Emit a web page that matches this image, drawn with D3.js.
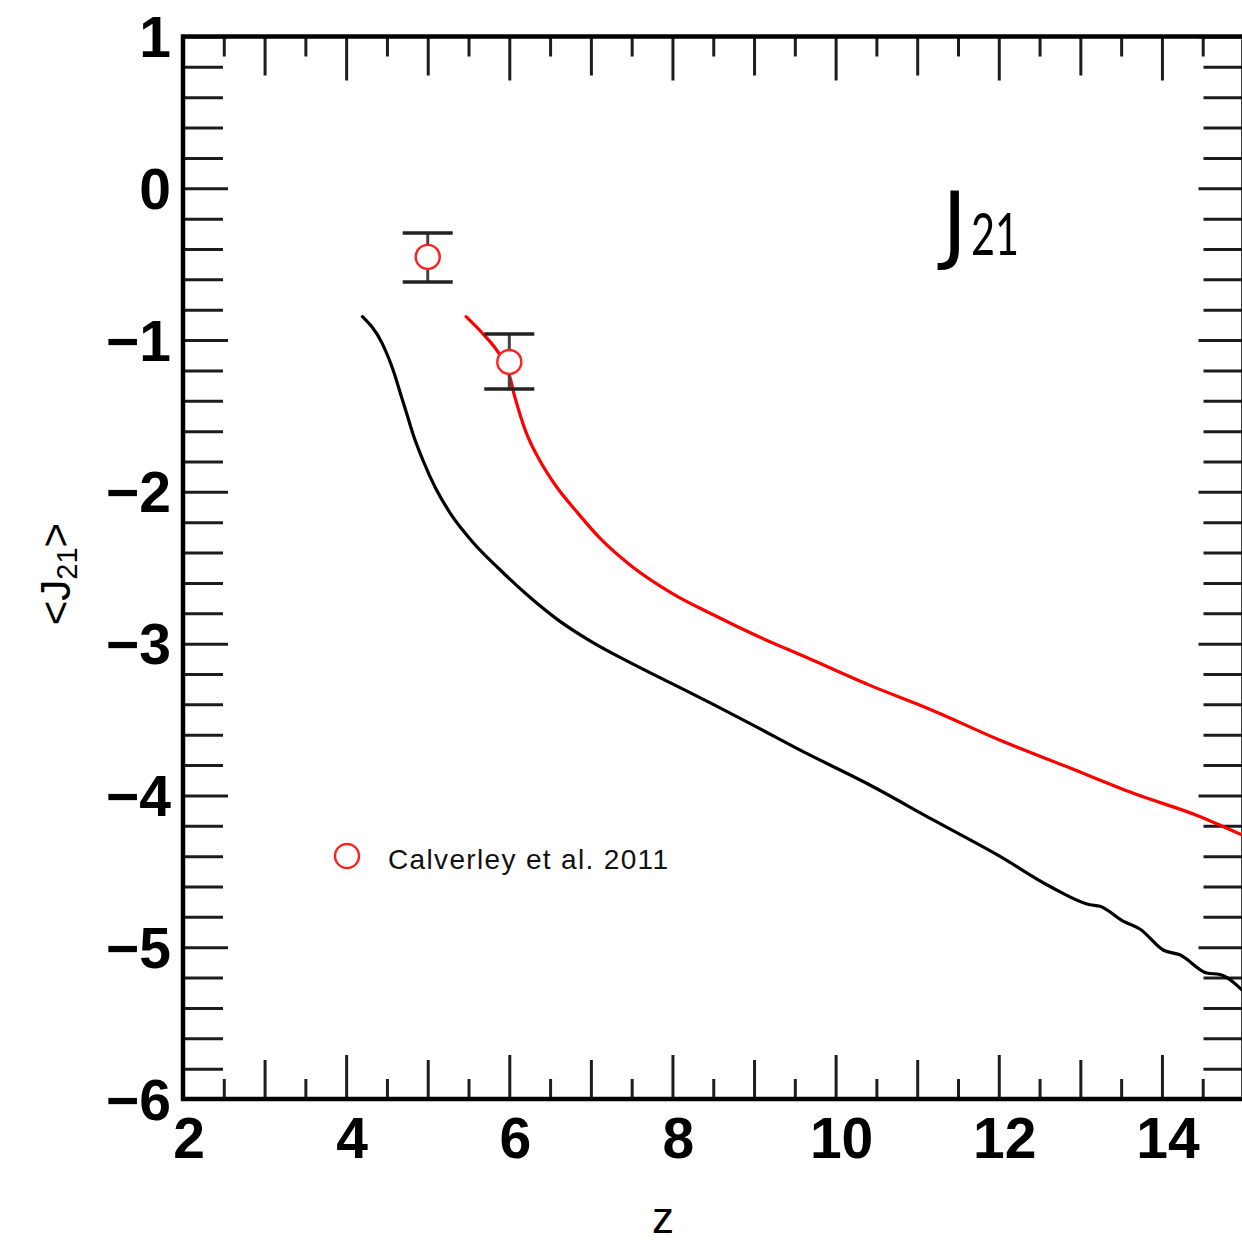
<!DOCTYPE html>
<html>
<head>
<meta charset="utf-8">
<script src="https://cdn.jsdelivr.net/npm/d3@7"></script>
<style>
  html, body { margin: 0; padding: 0; background: #fff; }
  svg { display: block; }
</style>
</head>
<body>
<svg id="chart" width="1242" height="1241"></svg>
<script>
// Mean ionising background <J21> (log10) versus redshift z

// Model without extra sources (black curve)
const blackZ = [4.20, 4.44, 4.59, 4.67, 4.74, 4.82, 4.94, 5.10, 5.30, 5.55, 5.88, 6.20, 6.60, 7.00,
                7.50, 8.00, 8.50, 9.00, 9.56, 10.38, 11.19, 12.01, 12.63, 13.12, 13.24, 13.53,
                13.73, 14.02, 14.22, 14.55, 14.71, 14.98];
const blackJ = [-0.846, -1.02, -1.22, -1.36, -1.48, -1.62, -1.79, -1.98, -2.16, -2.33, -2.51, -2.67,
                -2.845, -2.985, -3.13, -3.265, -3.40, -3.54, -3.70, -3.92, -4.16, -4.40, -4.60, -4.72,
                -4.73, -4.83, -4.88, -5.02, -5.05, -5.17, -5.18, -5.28];

// Model with the higher emissivity (red curve)
const redZ = [5.47, 5.67, 5.85, 5.95, 6.01, 6.06, 6.12, 6.20, 6.37, 6.57, 6.84, 7.12, 7.50, 8.00,
              8.50, 9.00, 9.64, 10.40, 11.19, 12.01, 12.83, 13.65, 14.47, 14.98];
const redJ = [-0.846, -0.955, -1.07, -1.16, -1.25, -1.36, -1.47, -1.60, -1.79, -1.96, -2.14, -2.31,
              -2.49, -2.67, -2.81, -2.94, -3.09, -3.27, -3.44, -3.635, -3.81, -3.986, -4.14, -4.26];

// Observational constraints: Calverley et al. 2011
const obsZ = [5.0, 6.0];
const obsJ = [-0.452, -1.144];
const obsHi = [-0.294, -0.960];
const obsLo = [-0.617, -1.322];

const legendLabel = "Calverley et al. 2011";
const xTickLabels = [2, 4, 6, 8, 10, 12, 14];
const yTickLabels = [1, 0, -1, -2, -3, -4, -5, -6];

(function draw() {
  const svg = d3.select("#chart");
  const frameL = 183, frameR = 1243.5, frameT = 36.5, frameB = 1099;

  const x = d3.scaleLinear().domain([2, 15]).range([frameL, frameR]);
  const y = d3.scaleLinear().domain([-6, 1]).range([frameB, frameT]);

  const tickColor = "#1c1c1c";

  // tick value sets
  const xMajor = d3.range(2, 15.001, 2);
  const xMid = d3.range(3, 15.001, 2);
  const xMinor = d3.range(2.5, 15, 1);
  const yMajor = d3.range(-6, 1.001, 1);
  const yMinor = d3.range(-6, 1.001, 0.2).map(v => Math.round(v * 10) / 10)
    .filter(v => Math.abs(v - Math.round(v)) > 1e-6);

  function tickGroup(axis, transform) {
    const g = svg.append("g").attr("transform", transform).call(axis);
    g.select(".domain").remove();
    g.selectAll(".tick line").attr("stroke", tickColor).attr("stroke-width", 3);
    g.selectAll(".tick text").remove();
    return g;
  }

  // bottom & top ticks (pointing inward)
  [[xMajor, 44], [xMid, 39], [xMinor, 20]].forEach(([vals, len]) => {
    tickGroup(d3.axisBottom(x).tickValues(vals).tickSize(-len), `translate(0,${frameB})`);
    tickGroup(d3.axisTop(x).tickValues(vals).tickSize(-len), `translate(0,${frameT})`);
  });
  // left & right ticks
  [[yMajor, 45], [yMinor, 40]].forEach(([vals, len]) => {
    tickGroup(d3.axisLeft(y).tickValues(vals).tickSize(-len), `translate(${frameL},0)`);
    tickGroup(d3.axisRight(y).tickValues(vals).tickSize(-len), `translate(${frameR},0)`);
  });

  // frame
  svg.append("rect")
    .attr("x", frameL).attr("y", frameT)
    .attr("width", frameR - frameL).attr("height", frameB - frameT)
    .attr("fill", "none").attr("stroke", "#000").attr("stroke-width", 4.5);

  // tick labels
  const fmt = v => (v < 0 ? "\u2212" + Math.abs(v) : String(v));
  svg.append("g").selectAll("text").data(xTickLabels).join("text")
    .attr("x", d => x(d) + 6).attr("y", 1158)
    .attr("text-anchor", "middle")
    .attr("font-family", "Liberation Sans, Arial, sans-serif")
    .attr("font-weight", "bold").attr("font-size", 57)
    .text(d => fmt(d));
  svg.append("g").selectAll("text").data(yTickLabels).join("text")
    .attr("x", 171).attr("y", d => y(d) + 20.5)
    .attr("text-anchor", "end")
    .attr("font-family", "Liberation Sans, Arial, sans-serif")
    .attr("font-weight", "bold").attr("font-size", 57)
    .text(d => fmt(d));

  // axis titles
  svg.append("text")
    .attr("x", 663).attr("y", 1233)
    .attr("text-anchor", "middle")
    .attr("font-family", "Liberation Sans, Arial, sans-serif")
    .attr("font-size", 44)
    .text("z");

  const yt = svg.append("text")
    .attr("transform", "translate(70,574) rotate(-90)")
    .attr("text-anchor", "middle")
    .attr("font-family", "Liberation Sans, Arial, sans-serif")
    .attr("font-size", 42);
  yt.append("tspan").text("<J");
  yt.append("tspan").attr("font-size", 29).attr("dy", 7).text("21");
  yt.append("tspan").attr("dy", -7).text(">");

  // curves, clipped to the frame
  svg.append("clipPath").attr("id", "plotClip")
    .append("rect").attr("x", frameL).attr("y", frameT)
    .attr("width", frameR - frameL).attr("height", frameB - frameT);

  const line = d3.line()
    .x(d => x(d[0])).y(d => y(d[1]))
    .curve(d3.curveMonotoneX);

  const curves = svg.append("g").attr("clip-path", "url(#plotClip)");
  curves.append("path")
    .datum(d3.zip(blackZ, blackJ))
    .attr("d", line).attr("fill", "none")
    .attr("stroke", "#000").attr("stroke-width", 3.2)
    .attr("stroke-linejoin", "round").attr("stroke-linecap", "round");
  curves.append("path")
    .datum(d3.zip(redZ, redJ))
    .attr("d", line).attr("fill", "none")
    .attr("stroke", "#ff0000").attr("stroke-width", 3.2)
    .attr("stroke-linejoin", "round").attr("stroke-linecap", "round");

  // data points with error bars
  const obs = obsZ.map((z, i) => ({ z, j: obsJ[i], hi: obsHi[i], lo: obsLo[i] }));
  const capW = 25;
  const og = svg.append("g");
  obs.forEach(d => {
    const cx = x(d.z);
    og.append("line").attr("x1", cx).attr("x2", cx)
      .attr("y1", y(d.hi)).attr("y2", y(d.lo))
      .attr("stroke", "#444").attr("stroke-width", 3);
    [d.hi, d.lo].forEach(v => {
      og.append("line").attr("x1", cx - capW).attr("x2", cx + capW)
        .attr("y1", y(v)).attr("y2", y(v))
        .attr("stroke", "#222").attr("stroke-width", 3.5);
    });
    og.append("circle").attr("cx", cx).attr("cy", y(d.j)).attr("r", 12)
      .attr("fill", "#fff").attr("stroke", "#ff2020").attr("stroke-width", 2.4);
  });

  // legend
  svg.append("circle").attr("cx", 347).attr("cy", 856).attr("r", 12)
    .attr("fill", "none").attr("stroke", "#ff2020").attr("stroke-width", 2.4);
  svg.append("text")
    .attr("x", 388).attr("y", 869)
    .attr("font-family", "Liberation Sans, Arial, sans-serif")
    .attr("font-size", 28)
    .attr("textLength", 280).attr("lengthAdjust", "spacing")
    .attr("fill", "#111")
    .text(legendLabel);

  // panel label
  svg.append("text")
    .attr("x", 942).attr("y", 253)
    .attr("font-family", "DejaVu Sans, sans-serif")
    .attr("font-size", 86)
    .attr("fill", "#000")
    .text("J");
  svg.append("text")
    .attr("x", 971).attr("y", 255)
    .attr("font-family", "Lato, sans-serif")
    .attr("font-size", 58)
    .attr("textLength", 48).attr("lengthAdjust", "spacingAndGlyphs")
    .attr("fill", "#000")
    .text("21");
})();
</script>
</body>
</html>
